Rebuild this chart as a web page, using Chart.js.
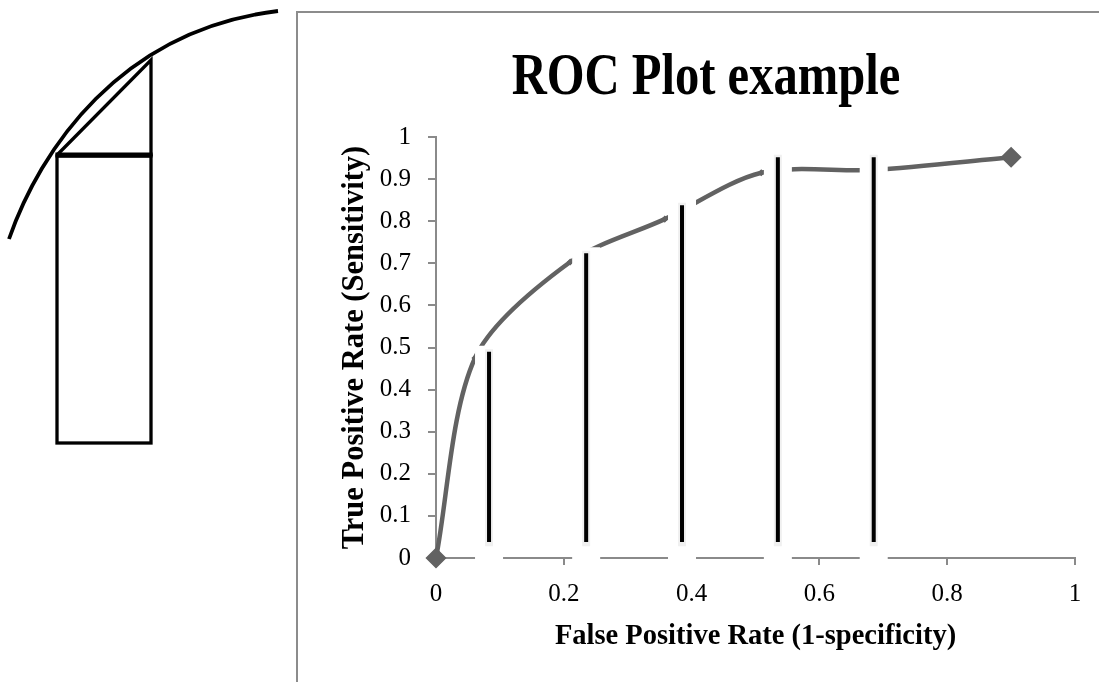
<!DOCTYPE html>
<html>
<head>
<meta charset="utf-8">
<script src="https://cdn.jsdelivr.net/npm/chart.js@4"></script>
<style>
  html, body { margin: 0; padding: 0; background: #fff; }
  #wrap { position: absolute; left: 0; top: 0; width: 1099px; height: 682px; overflow: hidden; }
  #frame { position: absolute; left: 296px; top: 11px; width: 803px; height: 671px;
           border-left: 2px solid #8c8c8c; border-top: 2px solid #8c8c8c; box-sizing: border-box; }
  #c { position: absolute; left: 298px; top: 13px; }
  #sketch { position: absolute; left: 0; top: 0; }
</style>
</head>
<body>
<div id="wrap">
  <svg id="sketch" width="296" height="460" viewBox="0 0 296 460">
    <path d="M9,239 C40,150 120,30 278,11" fill="none" stroke="#000" stroke-width="3.8"/>
    <rect x="57" y="156" width="94" height="287" fill="none" stroke="#000" stroke-width="3.3"/>
    <line x1="55.4" y1="155" x2="152.6" y2="155" stroke="#000" stroke-width="5"/>
    <polyline points="57,155 151,60 151,156" fill="none" stroke="#000" stroke-width="3.3" stroke-linejoin="miter"/>
  </svg>
  <div id="frame"></div>
  <canvas id="c" width="801" height="669"></canvas>
</div>
<script>
// ---- data ----
const fpr = [0, 0.061, 0.21, 0.358, 0.509, 0.685, 0.9];          // False Positive Rate
const tpr = [0, 0.475, 0.703, 0.805, 0.915, 0.922, 0.952];       // True Positive Rate
const markerSizes = [9.5, 2.5, 2.5, 2.5, 2.5, 0, 9.5];
const cutX = [0.083, 0.235, 0.385, 0.535, 0.685];                 // vertical strip lines
const cutTop = [0.49, 0.724, 0.838, 0.952, 0.952];
const cutBottom = 0.038;
const xTickValues = [0, 0.2, 0.4, 0.6, 0.8, 1];
const xTickLabels = ['0', '0.2', '0.4', '0.6', '0.8', '1'];
const yTickValues = [0, 0.1, 0.2, 0.3, 0.4, 0.5, 0.6, 0.7, 0.8, 0.9, 1];
const yTickLabels = ['0', '0.1', '0.2', '0.3', '0.4', '0.5', '0.6', '0.7', '0.8', '0.9', '1'];
const titleText = 'ROC Plot example';
const xTitle = 'False Positive Rate (1-specificity)';
const yTitle = 'True Positive Rate (Sensitivity)';

const rocPoints = fpr.map((x, i) => ({ x: x, y: tpr[i] }));
function cutSegments(extTop, extBottom) {
  const pts = [];
  cutX.forEach((x, i) => {
    pts.push({ x: x, y: cutTop[i] + extTop });
    pts.push({ x: x, y: cutBottom - extBottom });
    pts.push({ x: x, y: null });
  });
  return pts;
}

const serif = "'Liberation Serif', 'Times New Roman', serif";
const axisColor = '#8a8a8a';

// Title drawn as real canvas text, horizontally condensed like the reference typeface
const condensedTitle = {
  id: 'condensedTitle',
  afterDraw(chart, args, opts) {
    const ctx = chart.ctx;
    ctx.save();
    ctx.font = 'bold ' + opts.size + 'px ' + serif;
    ctx.fillStyle = opts.color;
    ctx.textAlign = 'center';
    ctx.textBaseline = 'alphabetic';
    ctx.translate(opts.x, opts.baseline);
    ctx.scale(opts.squeeze, 1);
    ctx.fillText(opts.text, 0, 0);
    ctx.restore();
  }
};

new Chart(document.getElementById('c'), {
  type: 'scatter',
  plugins: [condensedTitle],
  data: {
    datasets: [
      {
        label: 'ROC',
        data: rocPoints,
        showLine: true,
        tension: 0.3,
        borderColor: '#626262',
        borderWidth: 4.5,
        pointStyle: 'rectRot',
        pointRadius: markerSizes,
        pointBackgroundColor: '#626262',
        pointBorderColor: '#626262',
        pointBorderWidth: 1.5,
        clip: false,
        order: 4
      },
      {
        label: 'glow',
        data: cutSegments(0.014, 0.06),
        showLine: true,
        spanGaps: false,
        tension: 0,
        borderColor: '#ffffff',
        borderWidth: 28,
        borderCapStyle: 'butt',
        pointRadius: 0,
        clip: false,
        order: 3
      },
      {
        label: 'shadow',
        data: cutSegments(0.006, 0.01),
        showLine: true,
        spanGaps: false,
        tension: 0,
        borderColor: '#f0f0f0',
        borderWidth: 8,
        borderCapStyle: 'butt',
        pointRadius: 0,
        clip: false,
        order: 2
      },
      {
        label: 'cuts',
        data: cutSegments(0, 0),
        showLine: true,
        spanGaps: false,
        tension: 0,
        borderColor: '#000000',
        borderWidth: 4,
        borderCapStyle: 'butt',
        pointRadius: 0,
        clip: false,
        order: 1
      }
    ]
  },
  options: {
    responsive: false,
    animation: false,
    devicePixelRatio: 1,
    layout: { padding: { left: 0, right: 24, top: 124, bottom: 0 } },
    plugins: {
      legend: { display: false },
      tooltip: { enabled: false },
      title: { display: false },
      condensedTitle: { text: titleText, size: 60, squeeze: 0.81, x: 408, baseline: 81, color: '#000' }
    },
    scales: {
      x: {
        type: 'linear',
        min: 0, max: 1,
        afterFit: s => { s.height = 124; },
        afterBuildTicks: s => { s.ticks = xTickValues.map(v => ({ value: v })); },
        ticks: {
          color: '#000',
          font: { family: serif, size: 25 },
          padding: 14,
          maxRotation: 0,
          callback: (v, i) => xTickLabels[i]
        },
        grid: { display: true, drawOnChartArea: false, drawTicks: true, tickLength: 7, color: axisColor, lineWidth: 2 },
        border: { display: true, color: axisColor, width: 2 },
        title: {
          display: true, text: xTitle, color: '#000',
          font: { family: serif, size: 28.5, weight: 'bold', lineHeight: 1.2 },
          padding: { top: 0, bottom: 28 }
        }
      },
      y: {
        type: 'linear',
        min: 0, max: 1,
        afterFit: s => { s.width = 138; },
        afterBuildTicks: s => { s.ticks = yTickValues.map(v => ({ value: v })); },
        ticks: {
          color: '#000',
          font: { family: serif, size: 25 },
          padding: 17,
          callback: (v, i) => yTickLabels[i]
        },
        grid: { display: true, drawOnChartArea: false, drawTicks: true, tickLength: 8, color: axisColor, lineWidth: 2 },
        border: { display: true, color: axisColor, width: 2 },
        title: {
          display: true, text: yTitle, color: '#000',
          font: { family: serif, size: 30.5, weight: 'bold', lineHeight: 1.2 },
          padding: { top: 39, bottom: 0 }
        }
      }
    }
  }
});
</script>
</body>
</html>
